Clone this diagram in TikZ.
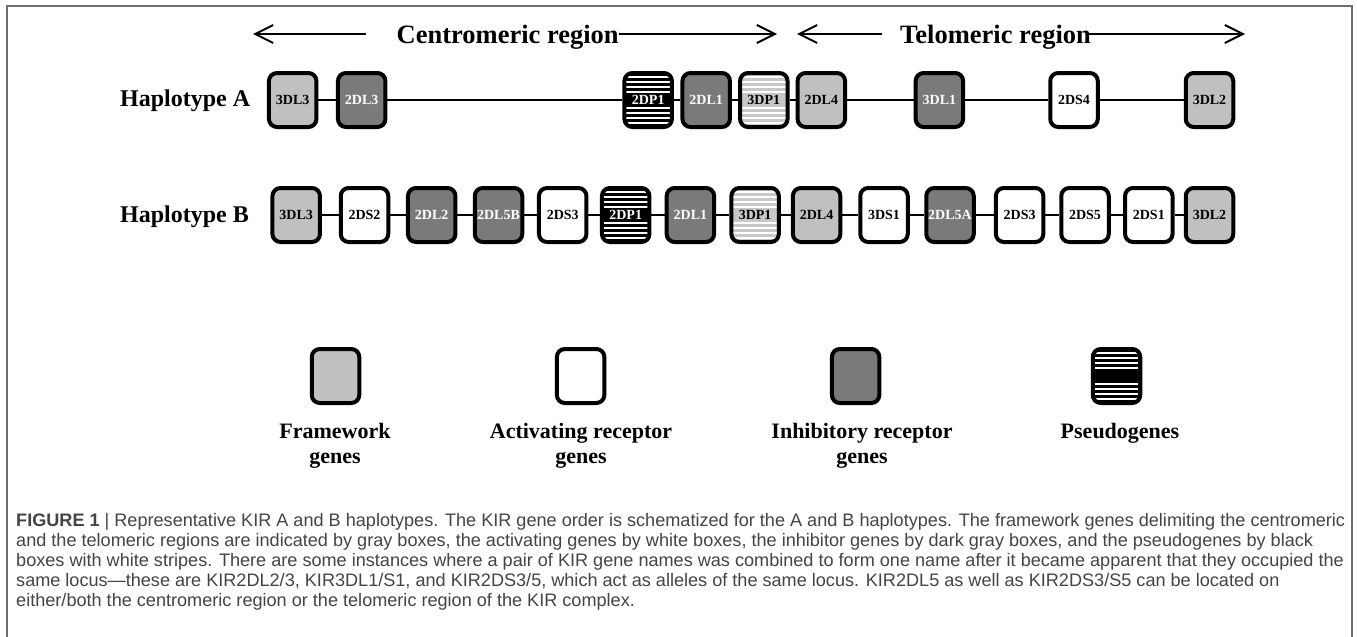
\documentclass[tikz,border=0pt]{standalone}
\usepackage{fontspec}
\setmainfont{Liberation Serif}
\newfontfamily\capfont{Liberation Sans}
\usetikzlibrary{arrows.meta}
\definecolor{fwgray}{RGB}{192,192,192}
\definecolor{inhgray}{RGB}{122,122,122}
\definecolor{stripegray}{RGB}{200,200,200}
\definecolor{captext}{RGB}{68,68,68}
\definecolor{framegray}{RGB}{110,110,110}
\newcommand{\genefont}{\bfseries\fontsize{14}{16}\selectfont}
% white bands across a pseudogene box, kept inside the border
\newcommand{\genestripes}[1]{%
  \foreach \dy in {8,13,18,23,-8,-13,-18,-23}{
    \draw[white,line width=#1]
      ([xshift=1.8pt,yshift=\dy pt]path picture bounding box.west) --
      ([xshift=-1.8pt,yshift=\dy pt]path picture bounding box.east);}}
\tikzset{
  gene/.style={draw=black, line width=4pt, rounded corners=8pt,
    minimum width=47.5pt, minimum height=54pt, inner sep=0pt, font=\genefont},
  fw/.style={gene, fill=fwgray},
  act/.style={gene, fill=white},
  inh/.style={gene, fill=inhgray, text=white},
  pseudo/.style={gene, fill=black, text=white, path picture={\genestripes{2pt}}},
  pseudolight/.style={gene, fill=stripegray, path picture={\genestripes{2.5pt}}},
  link/.style={line width=2pt},
  arr/.style={line width=2pt, -{Straight Barb[length=18pt,width=18pt]}},
  region/.style={font=\bfseries\fontsize{26.5}{30}\selectfont, inner sep=0pt, anchor=base west},
  hap/.style={font=\bfseries\fontsize{24}{28}\selectfont, inner sep=0pt, anchor=base west},
  legendtext/.style={font=\bfseries\fontsize{22}{25}\selectfont, align=center, inner sep=0pt, anchor=north},
  capline/.style={font=\capfont\fontsize{18.1}{20}\selectfont, text=captext, inner sep=0pt, anchor=base west},
}
\begin{document}
\begin{tikzpicture}[x=1pt,y=-1pt]
\useasboundingbox (0,0) rectangle (1357,637);
\fill[white] (0,0) rectangle (1357,637);
% outer frame, open at the bottom
\draw[framegray, line width=1.5pt] (7,637) -- (7,6) -- (1352,6) -- (1352,637);

% region headings with their arrows
\node[region] (cen) at (396.5,43) {Centromeric region};
\node[region] (tel) at (900,43) {Telomeric region};
\coordinate (cenL) at (366,34);
\coordinate (cenLtip) at (253,34);
\coordinate (cenRtip) at (777,34);
\coordinate (telL) at (882,34);
\coordinate (telLtip) at (797,34);
\coordinate (telRtip) at (1245,34);
\draw[arr] (cenL) -- (cenLtip);
\draw[arr] (cen.east |- cenL) -- (cenRtip);
\draw[arr] (telL) -- (telLtip);
\draw[arr] ([xshift=-3pt]tel.east |- telL) -- (telRtip);

% haplotype A
\node[hap] (hapA) at (120,106) {Haplotype A};
\node[fw]  (a1) at (292.7,100) {3DL3};
\node[inh] (a2) at (361.7,100) {2DL3};
\node[pseudo] (a3) at (648.2,100) {2DP1};
\node[inh] (a4) at (706.2,100) {2DL1};
\node[pseudolight] (a5) at (763.8,100) {3DP1};
\node[fw]  (a6) at (821.3,100) {2DL4};
\node[inh] (a7) at (939.4,100) {3DL1};
\node[act] (a8) at (1074,100) {2DS4};
\node[fw]  (a9) at (1209.5,100) {3DL2};
\foreach \i/\j in {a1/a2,a2/a3,a3/a4,a4/a5,a5/a6,a6/a7,a7/a8,a8/a9}
  \draw[link] (\i) -- (\j);

% haplotype B
\node[hap] (hapB) at (120,222) {Haplotype B};
\node[fw]  (b1) at (296.2,215) {3DL3};
\node[act] (b2) at (364.5,215) {2DS2};
\node[inh] (b3) at (431.7,215) {2DL2};
\node[inh] (b4) at (498.5,215) {2DL5B};
\node[act] (b5) at (562.7,215) {2DS3};
\node[pseudo] (b6) at (625.7,215) {2DP1};
\node[inh] (b7) at (690.4,215) {2DL1};
\node[pseudolight] (b8) at (755.1,215) {3DP1};
\node[fw]  (b9) at (816.6,215) {2DL4};
\node[act] (b10) at (884,215) {3DS1};
\node[inh] (b11) at (950,215) {2DL5A};
\node[act] (b12) at (1019.6,215) {2DS3};
\node[act] (b13) at (1085,215) {2DS5};
\node[act] (b14) at (1148.8,215) {2DS1};
\node[fw]  (b15) at (1209.5,215) {3DL2};
\foreach \i [evaluate=\i as \j using int(\i+1)] in {1,...,14}
  \draw[link] (b\i) -- (b\j);

% legend
\node[fw]  (k1) at (335.5,376) {};
\node[act] (k2) at (580.6,376) {};
\node[inh] (k3) at (855.6,376) {};
\node[pseudo] (k4) at (1116.5,376) {};
\node[legendtext] (t1) at (335,423) {Framework\\genes};
\node[legendtext] (t2) at (581,423) {Activating receptor\\genes};
\node[legendtext] (t3) at (862,423) {Inhibitory receptor\\genes};
\node[legendtext] (t4) at (1120,423) {Pseudogenes};

% caption
\node[capline] (cap1) at (16,526) {\textbf{FIGURE 1} | Representative KIR A and B haplotypes. The KIR gene order is schematized for the A and B haplotypes. The framework genes delimiting the centromeric};
\node[capline] (cap2) at (16,546) {and the telomeric regions are indicated by gray boxes, the activating genes by white boxes, the inhibitor genes by dark gray boxes, and the pseudogenes by black};
\node[capline] (cap3) at (16,566) {boxes with white stripes. There are some instances where a pair of KIR gene names was combined to form one name after it became apparent that they occupied the};
\node[capline] (cap4) at (16,586) {same locus—these are KIR2DL2/3, KIR3DL1/S1, and KIR2DS3/5, which act as alleles of the same locus. KIR2DL5 as well as KIR2DS3/S5 can be located on};
\node[capline] (cap5) at (16,606) {either/both the centromeric region or the telomeric region of the KIR complex.};
\end{tikzpicture}
\end{document}
